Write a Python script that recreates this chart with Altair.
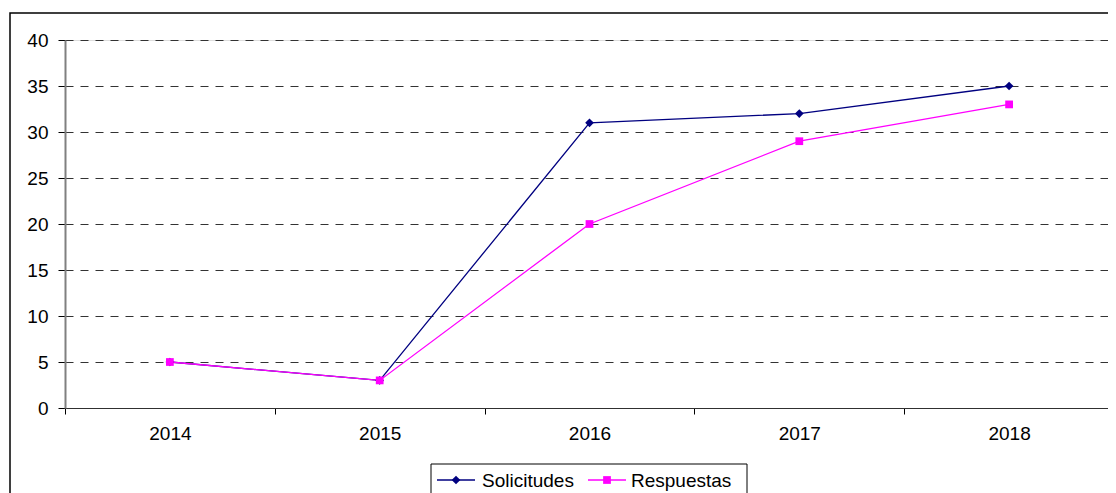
import altair as alt
import pandas as pd

years = ["2014", "2015", "2016", "2017", "2018"]
solicitudes = [5, 3, 31, 32, 35]
respuestas = [5, 3, 20, 29, 33]
series_names = ["Solicitudes", "Respuestas"]
series_colors = ["#000080", "#FF00FF"]

rows = []
for y, s, r in zip(years, solicitudes, respuestas):
    rows.append({"year": y, "serie": "Solicitudes", "value": s})
    rows.append({"year": y, "serie": "Respuestas", "value": r})
df = pd.DataFrame(rows)

FONT = "Liberation Sans"
PLOT_W = 1049

x_enc = alt.X(
    "year:O",
    scale=alt.Scale(type="band", paddingInner=0, paddingOuter=0, domain=years, range=[0, PLOT_W]),
    axis=alt.Axis(
        title=None, tickBand="extent", labelAngle=0, labelFontSize=19, labelFont=FONT,
        labelColor="black", tickSize=6, tickColor="#000000", domainColor="#303030",
        labelPadding=10, grid=False,
    ),
)
y_enc = alt.Y(
    "value:Q",
    scale=alt.Scale(domain=[0, 40], nice=False),
    axis=alt.Axis(
        title=None, values=[0, 5, 10, 15, 20, 25, 30, 35, 40], labelFontSize=19,
        labelFont=FONT, labelColor="black", tickSize=7, tickColor="#000000",
        domainColor="#808080", domainWidth=2, labelPadding=10, grid=True,
        gridColor="#333333", gridDash=[8, 7], gridWidth=1,
    ),
)

base = alt.Chart(df)

lines = base.mark_line(strokeWidth=1.3).encode(
    x=x_enc, y=y_enc,
    color=alt.Color("serie:N", scale=alt.Scale(domain=series_names, range=series_colors), legend=None),
    detail="serie:N",
)

diamonds = base.transform_filter(alt.datum.serie == series_names[0]).mark_point(
    filled=True, size=75, shape="diamond", color=series_colors[0], opacity=1
).encode(x=x_enc, y=y_enc)

squares = base.transform_filter(alt.datum.serie == series_names[1]).mark_point(
    filled=True, size=60, shape="square", color=series_colors[1], opacity=1
).encode(x=x_enc, y=y_enc)

# ---- legend (drawn as a boxed key below the plot) ----
leg_df = pd.DataFrame({"serie": series_names})
leg = alt.Chart(leg_df)
LEG_Y = 440
leg_box = leg.transform_filter(alt.datum.serie == series_names[0]).mark_rect(
    fill="white", stroke="black", strokeWidth=1
).encode(x=alt.value(366), x2=alt.value(682), y=alt.value(424), y2=alt.value(470))

legend_layers = [leg_box]
entries = [
    (series_names[0], series_colors[0], "diamond", 75, 372, 410, 391, 417),
    (series_names[1], series_colors[1], "square", 60, 523, 561, 542, 566),
]
for name, col, shp, sz, lx1, lx2, mx, tx in entries:
    sub = leg.transform_filter(alt.datum.serie == name)
    legend_layers.append(
        sub.mark_rule(color=col, strokeWidth=1.3).encode(
            x=alt.value(lx1), x2=alt.value(lx2), y=alt.value(LEG_Y)
        )
    )
    legend_layers.append(
        sub.mark_point(filled=True, shape=shp, size=sz, color=col, opacity=1).encode(
            x=alt.value(mx), y=alt.value(LEG_Y)
        )
    )
    legend_layers.append(
        sub.mark_text(align="left", baseline="middle", fontSize=19, font=FONT, color="black").encode(
            text="serie:N", x=alt.value(tx), y=alt.value(LEG_Y + 1)
        )
    )

frame = alt.Chart(pd.DataFrame({"k": [0]})).mark_rect(
    fill=None, stroke="black", strokeWidth=1.5
).encode(
    x=alt.value(-55), x2=alt.value(1100), y=alt.value(-27), y2=alt.value(500)
)

chart = alt.layer(frame, lines, diamonds, squares, *legend_layers).properties(
    width=1043, height=368,
    padding={"left": 57, "top": 32, "right": 0, "bottom": 85},
    autosize=alt.AutoSizeParams(type="none"),
).configure_view(stroke=None).configure(background="white")

chart.save("out.html", embed_options={"renderer": "svg", "actions": False})
